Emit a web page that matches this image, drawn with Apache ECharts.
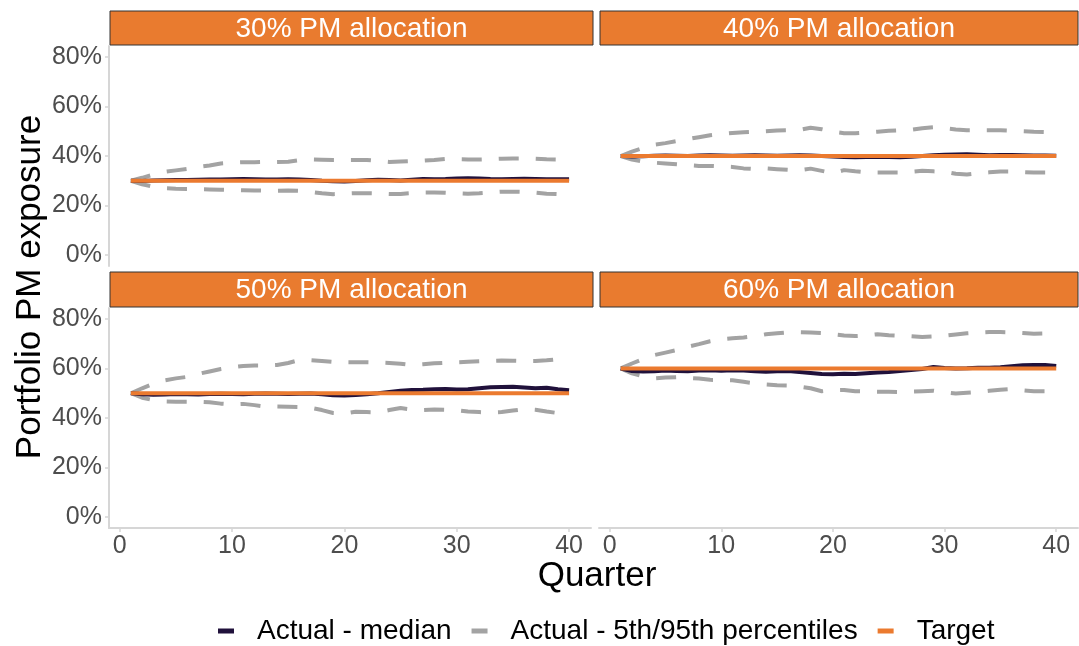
<!DOCTYPE html>
<html>
<head>
<meta charset="utf-8">
<script src="https://cdn.jsdelivr.net/npm/echarts@6/dist/echarts.min.js"></script>
<style>
html,body{margin:0;padding:0;background:#fff;}
#chart{width:1079px;height:646px;}
</style>
</head>
<body>
<div id="chart"></div>
<script>
const quarters = [1,2,3,4,5,6,7,8,9,10,11,12,13,14,15,16,17,18,19,20,21,22,23,24,25,26,27,28,29,30,31,32,33,34,35,36,37,38,39,40];
const xTicks = [0,10,20,30,40];
const yTicks = [0,0.2,0.4,0.6,0.8];
const panelLabels = ['30% PM allocation','40% PM allocation','50% PM allocation','60% PM allocation'];
const targets = [0.30,0.40,0.50,0.60];

const med30 = [0.300,0.299,0.301,0.302,0.303,0.303,0.304,0.305,0.305,0.306,0.307,0.306,0.305,0.305,0.306,0.305,0.303,0.300,0.298,0.297,0.299,0.302,0.304,0.303,0.301,0.304,0.307,0.306,0.307,0.309,0.310,0.309,0.307,0.306,0.307,0.308,0.307,0.306,0.306,0.306];
const p95_30 = [0.300,0.312,0.325,0.336,0.342,0.348,0.356,0.362,0.370,0.373,0.375,0.375,0.376,0.376,0.377,0.383,0.386,0.385,0.384,0.384,0.384,0.384,0.380,0.376,0.378,0.380,0.381,0.384,0.388,0.387,0.386,0.386,0.387,0.389,0.390,0.390,0.389,0.387,0.386,0.386];
const p5_30 = [0.300,0.286,0.276,0.270,0.268,0.267,0.266,0.265,0.264,0.263,0.262,0.261,0.260,0.260,0.261,0.260,0.255,0.250,0.246,0.248,0.250,0.250,0.249,0.247,0.247,0.250,0.253,0.253,0.252,0.250,0.248,0.250,0.253,0.256,0.256,0.255,0.252,0.248,0.246,0.246];

const med40 = [0.400,0.398,0.399,0.401,0.402,0.401,0.400,0.402,0.403,0.402,0.401,0.402,0.403,0.402,0.401,0.402,0.403,0.402,0.400,0.398,0.396,0.395,0.396,0.397,0.396,0.395,0.397,0.400,0.403,0.405,0.406,0.407,0.405,0.403,0.404,0.404,0.403,0.402,0.402,0.401];
const p95_40 = [0.400,0.418,0.432,0.446,0.452,0.460,0.468,0.476,0.484,0.489,0.493,0.496,0.498,0.500,0.503,0.504,0.505,0.514,0.508,0.498,0.492,0.492,0.495,0.498,0.502,0.504,0.506,0.512,0.516,0.512,0.507,0.504,0.504,0.504,0.504,0.502,0.500,0.498,0.497,0.497];
const p5_40 = [0.400,0.386,0.378,0.373,0.370,0.367,0.363,0.360,0.360,0.358,0.356,0.350,0.347,0.350,0.347,0.344,0.343,0.349,0.340,0.331,0.343,0.338,0.334,0.333,0.333,0.333,0.336,0.340,0.338,0.336,0.328,0.325,0.330,0.334,0.337,0.337,0.335,0.333,0.333,0.333];

const med50 = [0.500,0.496,0.494,0.495,0.497,0.496,0.495,0.497,0.498,0.497,0.496,0.498,0.499,0.498,0.497,0.498,0.499,0.496,0.492,0.491,0.493,0.496,0.500,0.505,0.510,0.513,0.514,0.516,0.517,0.515,0.516,0.520,0.524,0.525,0.526,0.523,0.520,0.522,0.516,0.512];
const p95_50 = [0.500,0.520,0.538,0.552,0.560,0.566,0.578,0.588,0.598,0.605,0.610,0.612,0.612,0.614,0.622,0.634,0.633,0.630,0.626,0.625,0.625,0.625,0.624,0.622,0.619,0.614,0.617,0.621,0.623,0.625,0.627,0.629,0.631,0.632,0.631,0.630,0.630,0.633,0.637,0.640];
const p5_50 = [0.500,0.482,0.472,0.467,0.466,0.466,0.466,0.464,0.458,0.455,0.457,0.452,0.446,0.446,0.445,0.444,0.441,0.432,0.420,0.418,0.425,0.424,0.423,0.432,0.440,0.434,0.432,0.434,0.433,0.431,0.426,0.424,0.422,0.424,0.430,0.436,0.433,0.426,0.420,0.415];

const med60 = [0.600,0.590,0.588,0.589,0.592,0.590,0.589,0.592,0.593,0.591,0.593,0.592,0.589,0.587,0.589,0.590,0.586,0.582,0.578,0.577,0.579,0.578,0.581,0.584,0.586,0.590,0.594,0.598,0.606,0.602,0.600,0.601,0.603,0.603,0.605,0.609,0.613,0.614,0.614,0.610];
const p95_60 = [0.600,0.620,0.638,0.654,0.664,0.674,0.688,0.698,0.710,0.718,0.722,0.725,0.730,0.738,0.742,0.746,0.746,0.745,0.743,0.738,0.733,0.731,0.733,0.738,0.734,0.732,0.730,0.727,0.729,0.732,0.737,0.742,0.745,0.747,0.747,0.746,0.743,0.740,0.741,0.743];
const p5_60 = [0.600,0.580,0.568,0.560,0.563,0.565,0.562,0.559,0.554,0.553,0.552,0.546,0.540,0.535,0.532,0.531,0.527,0.520,0.508,0.512,0.513,0.508,0.507,0.506,0.506,0.505,0.506,0.508,0.510,0.504,0.499,0.502,0.505,0.510,0.514,0.517,0.512,0.508,0.508,0.507];

const medians = [med30, med40, med50, med60];
const p95s = [p95_30, p95_40, p95_50, p95_60];
const p5s = [p5_30, p5_40, p5_50, p5_60];

const C_MED = '#20113b', C_PCT = '#a3a3a3', C_TGT = '#eb7a2f', C_STRIP = '#e97b2f';
const FONT = '"Liberation Sans", Arial, sans-serif';
const PCT_NAME = 'Actual - 5th/95th percentiles';

const grids = [
  {left:109, top:46, width:482, height:220},
  {left:599, top:46, width:479, height:220},
  {left:109, top:308, width:482, height:220},
  {left:599, top:308, width:479, height:220}
];
const stripRects = [
  {x:110, y:11, w:483, h:34},
  {x:600, y:11, w:478, h:34},
  {x:110, y:272, w:483, h:35},
  {x:600, y:272, w:478, h:35}
];

const pair = arr => quarters.map((q,i) => [q, arr[i]]);
const xAxes = [], yAxes = [];
// legend-only entry (solid swatch) for the percentile lines
const series = [{type:'line', name:PCT_NAME, xAxisIndex:0, yAxisIndex:0, data:[], showSymbol:false, symbol:'none',
  itemStyle:{color:C_PCT}, lineStyle:{color:C_PCT, width:4, type:'solid'}}];
for (let i = 0; i < 4; i++) {
  const bottom = i >= 2, left = i % 2 === 0;
  xAxes.push({
    gridIndex:i, type:'value', min:-0.95, max:41.95,
    axisLine:{show:bottom, onZero:false, lineStyle:{color:'#d6d6d6', width:2}},
    axisTick:{show:bottom, customValues:xTicks, length:4, lineStyle:{color:'#d6d6d6', width:1.5}},
    axisLabel:{show:bottom, customValues:xTicks, fontSize:25, color:'#4d4d4d', fontFamily:FONT, margin:6},
    splitLine:{show:false}
  });
  yAxes.push({
    gridIndex:i, type:'value', min:-0.044, max:0.844,
    axisLine:{show:left, onZero:false, lineStyle:{color:'#d6d6d6', width:2}},
    axisTick:{show:left, customValues:yTicks, length:4, lineStyle:{color:'#d6d6d6', width:1.5}},
    axisLabel:{show:left, customValues:yTicks, fontSize:25, color:'#4d4d4d', fontFamily:FONT, margin:7,
      formatter: v => Math.round(v*100) + '%'},
    splitLine:{show:false}
  });
  const common = {type:'line', xAxisIndex:i, yAxisIndex:i, showSymbol:false, symbol:'none', silent:true, animation:false};
  series.push(Object.assign({}, common, {name:'p95 ' + panelLabels[i], data:pair(p95s[i]),
    itemStyle:{color:C_PCT}, lineStyle:{color:C_PCT, width:4, type:[20,17], cap:'butt'}, z:2}));
  series.push(Object.assign({}, common, {name:'p5 ' + panelLabels[i], data:pair(p5s[i]),
    itemStyle:{color:C_PCT}, lineStyle:{color:C_PCT, width:4, type:[20,17], cap:'butt'}, z:2}));
  series.push(Object.assign({}, common, {name:'Actual - median', data:pair(medians[i]),
    itemStyle:{color:C_MED}, lineStyle:{color:C_MED, width:4}, z:3}));
  series.push(Object.assign({}, common, {name:'Target',
    data:[[quarters[0], targets[i]], [quarters[quarters.length-1], targets[i]]],
    itemStyle:{color:C_TGT}, lineStyle:{color:C_TGT, width:4}, z:4}));
}

const graphics = [];
stripRects.forEach((r, i) => {
  graphics.push({type:'rect', shape:{x:r.x, y:r.y, width:r.w, height:r.h},
    style:{fill:C_STRIP, stroke:'#333', lineWidth:1}, z:10});
  graphics.push({type:'text', x:r.x + r.w/2, y:r.y + r.h/2 + 1,
    style:{text:panelLabels[i], fill:'#fff', font:'28px ' + FONT, textAlign:'center', textVerticalAlign:'middle'}, z:11});
});
graphics.push({type:'text', x:597, y:576,
  style:{text:'Quarter', fill:'#000', font:'35px ' + FONT, textAlign:'center', textVerticalAlign:'middle'}});
graphics.push({type:'text', x:30, y:287, rotation:Math.PI/2,
  style:{text:'Portfolio PM exposure', fill:'#000', font:'35px ' + FONT, textAlign:'center', textVerticalAlign:'middle'}});

const legendNames = ['Actual - median', PCT_NAME, 'Target'];
const legendColors = [C_MED, C_PCT, C_TGT];
const chart = echarts.init(document.getElementById('chart'), null, {renderer:'canvas'});
chart.setOption({
  animation:false,
  backgroundColor:'#fff',
  grid:grids,
  xAxis:xAxes,
  yAxis:yAxes,
  series:series,
  graphic:graphics,
  legend:{
    data:legendNames.map((n, k) => ({name:n, icon:'rect',
      itemStyle:{color:legendColors[k], borderWidth:0},
      lineStyle:{type:'solid', width:0}})),
    left:213, top:612, itemWidth:16, itemHeight:5, itemGap:20,
    selectedMode:false,
    textStyle:{fontSize:28, color:'#000', fontFamily:FONT, padding:[0,0,0,18]}
  }
});
</script>
</body>
</html>
